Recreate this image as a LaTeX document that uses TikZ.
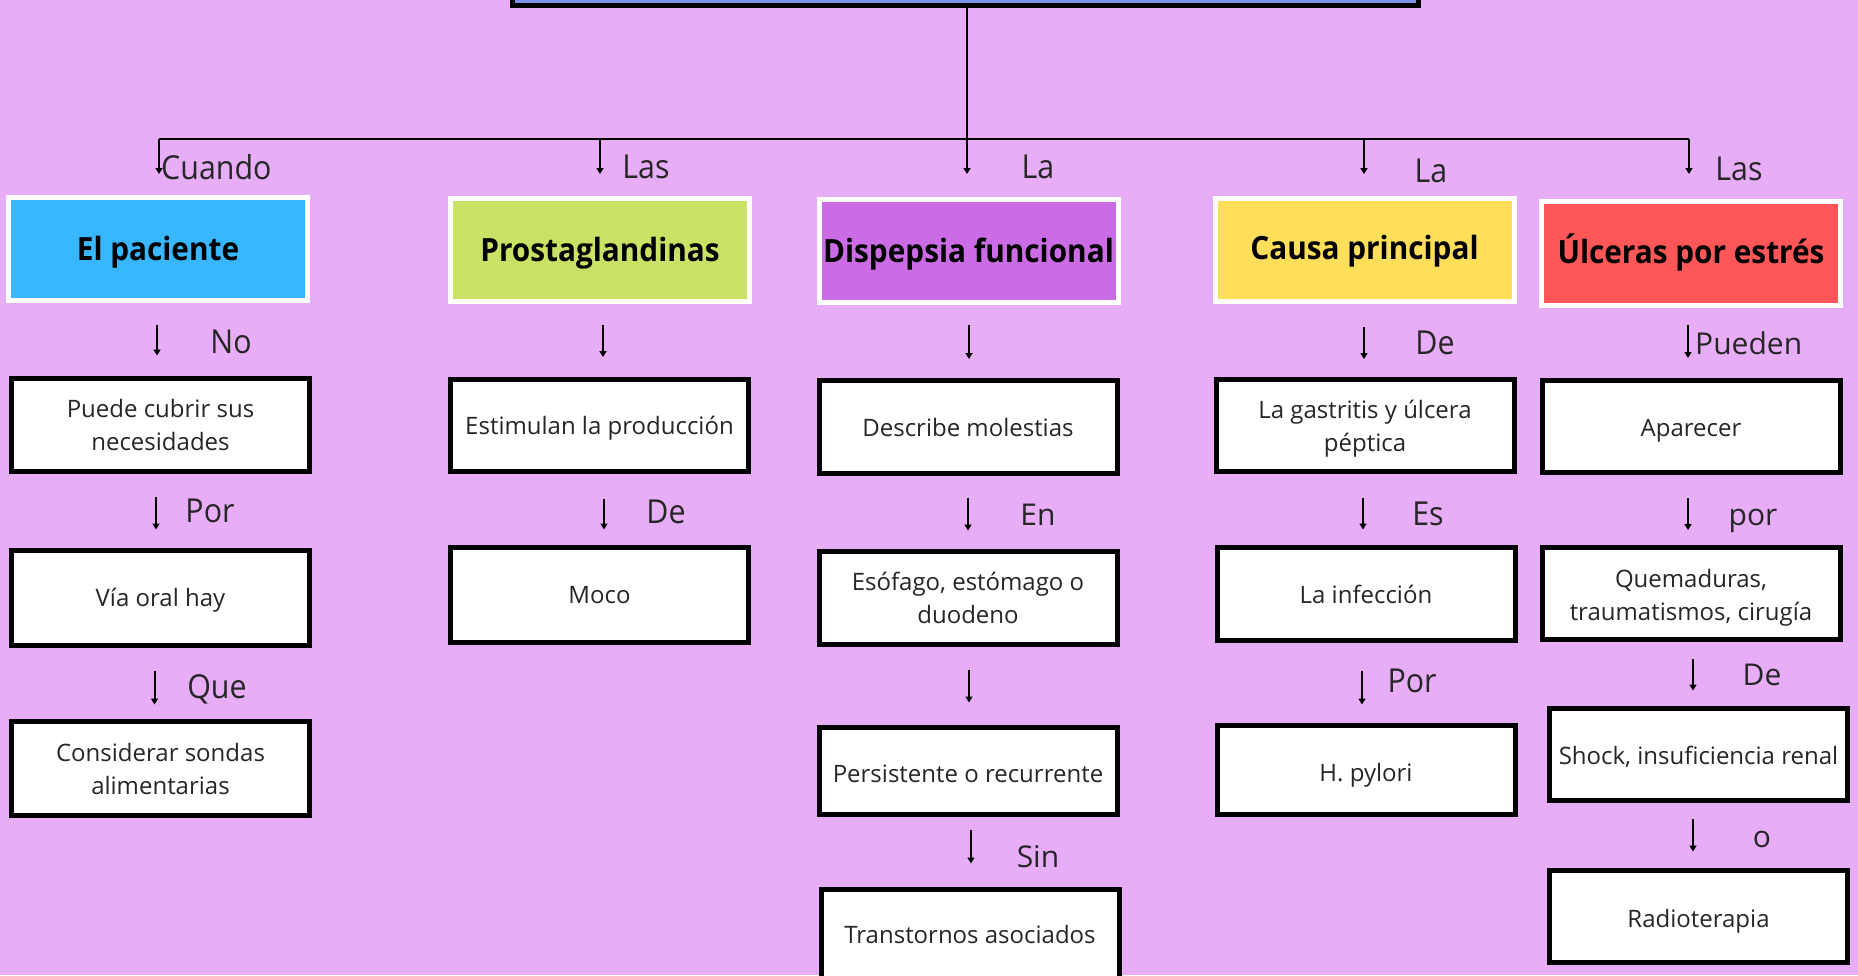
\documentclass[tikz,border=0pt]{standalone}
\usepackage{fontspec}
\setmainfont{Open Sans}
\newfontfamily\condf{Open Sans}[FakeStretch=0.92]
\newfontfamily\headf{Open Sans}[FakeStretch=0.93]
\usetikzlibrary{arrows.meta,calc}
\definecolor{bgc}{HTML}{E8ADF7}
\definecolor{topc}{HTML}{7E93E6}
\definecolor{cblue}{HTML}{38B6FF}
\definecolor{cgreen}{HTML}{C9E265}
\definecolor{cpurple}{HTML}{CB6CE6}
\definecolor{cyellow}{HTML}{FFDE59}
\definecolor{cred}{HTML}{FF5757}
% shift a single line of node text vertically, keeping its box size
\newcommand\shone[2]{\raisebox{#1}[\height][\depth]{#2}}
% shift a two-line node text vertically, keeping its box size
\newcommand\shtwo[2]{\raisebox{#1}[\height][\depth]{\begin{tabular}{@{}c@{}}#2\end{tabular}}}
\tikzset{
  hdr/.style={draw=white, line width=5pt, inner sep=0pt, minimum width=299pt, minimum height=103pt,
    font=\headf\bfseries\fontsize{32}{36}\selectfont, text=black},
  body/.style={draw=black, fill=white, line width=5pt, inner sep=0pt, minimum width=298pt, minimum height=92pt,
    align=center, font=\fontsize{24}{33}\selectfont, text=black!85},
  arr/.style={line width=2pt, -{Triangle[width=7pt,length=6pt]}},
  conn/.style={line width=2.2pt},
  lab/.style={anchor=base, inner sep=0pt, font=\condf\fontsize{33}{36}\selectfont, text=black!85},
  labn/.style={anchor=base, inner sep=0pt, font=\fontsize{30}{34}\selectfont, text=black!85}
}
\begin{document}
\begin{tikzpicture}[x=1pt,y=-1pt]
\useasboundingbox (0,0) rectangle (1858,975);
\fill[bgc] (0,0) rectangle (1858,975);

% top box (title cut off)
\node[draw=black, fill=topc, line width=5pt, minimum width=906pt, minimum height=71pt, inner sep=0pt] (top) at (965.5,-30) {};

% headers
\node[hdr, fill=cblue]   (h1) at (158,249)   {\shone{-3.5pt}{El paciente}};
\node[hdr, fill=cgreen]  (h2) at (600,249.5) {\shone{-3.5pt}{Prostaglandinas}};
\node[hdr, fill=cpurple] (h3) at (968.5,250.5) {\shone{-3.5pt}{Dispepsia funcional}};
\node[hdr, fill=cyellow] (h4) at (1364.5,249.5) {\shone{-1.5pt}{Causa principal}};
\node[hdr, fill=cred, minimum height=104pt] (h5) at (1691,253) {\shone{1pt}{Úlceras por estrés}};

% column 1
\node[body, minimum height=93pt] (b11) at (160.5,425) {Puede cubrir sus\\necesidades};
\node[body, minimum height=95pt] (b12) at (160.5,598) {\shone{-2.5pt}{Vía oral hay}};
\node[body, minimum height=94pt] (b13) at (160.5,768.5) {Considerar sondas\\alimentarias};
% column 2
\node[body] (b21) at (599.5,425.5) {\shone{-2.5pt}{Estimulan la producción}};
\node[body, minimum height=95pt] (b22) at (599.5,595) {Moco};
% column 3
\node[body, minimum height=93pt] (b31) at (968,427) {Describe molestias};
\node[body, minimum height=93pt] (b32) at (968,598) {Esófago, estómago o\\duodeno};
\node[body, minimum height=87pt] (b33) at (968,771) {\shone{-2.5pt}{Persistente o recurrente}};
\node[body] (b34) at (970,935.5) {\shone{1pt}{Transtornos asociados}};
% column 4
\node[body] (b41) at (1365,425.5) {\shtwo{-2.5pt}{La gastritis y úlcera\\péptica}};
\node[body, minimum height=93pt] (b42) at (1366,594) {La infección};
\node[body, minimum height=89pt] (b43) at (1366,770) {\shone{-5pt}{H. pylori}};
% column 5
\node[body] (b51) at (1691,426) {\shone{-5pt}{Aparecer}};
\node[body] (b52) at (1691,593.5) {\shtwo{-3.5pt}{Quemaduras,\\traumatismos, cirugía}};
\node[body] (b53) at (1698.5,754.5) {\shone{-2.5pt}{Shock, insuficiencia renal}};
\node[body] (b54) at (1698.5,916.5) {\shone{-5pt}{Radioterapia}};

% top connector bar
\coordinate (barM) at (967,139);
\coordinate (barL) at (159,139);
\coordinate (barR) at (1689,139);
\coordinate (t2) at (600,139);
\coordinate (t3) at (967,139);
\coordinate (t4) at (1364,139);
\draw[conn] (top.south -| barM) -- (barM);
\draw[conn] (barL) -- (barR);
\draw[arr] (barL) -- ++(0,35);
\draw[arr] (t2) -- ++(0,35);
\draw[arr] (t3) -- ++(0,35);
\draw[arr] (t4) -- ++(0,35);
\draw[arr] (barR) -- ++(0,35);

% column arrows
\draw[arr] ($(h1.south)+(-1,21.5)$) -- ++(0,31);
\draw[arr] ($(b11.south)+(-4.5,22.5)$) -- ++(0,33);
\draw[arr] ($(b12.south)+(-6,22.5)$) -- ++(0,34);

\draw[arr] ($(h2.south)+(3,21.5)$) -- ++(0,32);
\draw[arr] ($(b21.south)+(4.5,24.5)$) -- ++(0,31);

\draw[arr] ($(h3.south)+(0.5,20.5)$) -- ++(0,34);
\draw[arr] ($(b31.south)+(0,21.5)$) -- ++(0,33);
\draw[arr] ($(b32.south)+(1,22.5)$) -- ++(0,33);
\draw[arr] ($(b33.south)+(3,12.5)$) -- ++(0,34);

\draw[arr] ($(h4.south)+(-0.5,23.5)$) -- ++(0,32);
\draw[arr] ($(b41.south)+(-2,23.5)$) -- ++(0,32);
\draw[arr] ($(b42.south)+(-4,27.5)$) -- ++(0,34);

\draw[arr] ($(h5.south)+(-3,17.5)$) -- ++(0,33);
\draw[arr] ($(b51.south)+(-3,23.5)$) -- ++(0,32);
\draw[arr] ($(b52.south)+(2,16.5)$) -- ++(0,32);
\draw[arr] ($(b53.south)+(-5.5,15.5)$) -- ++(0,33);

% labels
\node[lab, anchor=base west] (lcuando) at (161,179) {Cuando};
\node[lab] (llas1) at (646,178) {Las};
\node[lab] (lla1) at (1038,178) {La};
\node[lab] (lla2) at (1431,182) {La};
\node[lab] (llas2) at (1739,180) {Las};

\node[lab] (lno) at (231,353) {No};
\node[lab] (lpor1) at (210,522) {Por};
\node[lab] (lque) at (217,698) {Que};

\node[lab] (lde1) at (666,523) {De};

\node[labn] (len) at (1038,525) {En};
\node[labn] (lsin) at (1038,867) {Sin};

\node[lab] (lde2) at (1435,354) {De};
\node[lab] (les) at (1428,525) {Es};
\node[lab] (lpor2) at (1412,692) {Por};

\node[labn, anchor=base west] (lpueden) at (1695,354) {Pueden};
\node[labn] (lpor3) at (1753,525) {por};
\node[labn] (lde3) at (1762,685) {De};
\node[labn] (lo) at (1762,847) {o};
\end{tikzpicture}
\end{document}
